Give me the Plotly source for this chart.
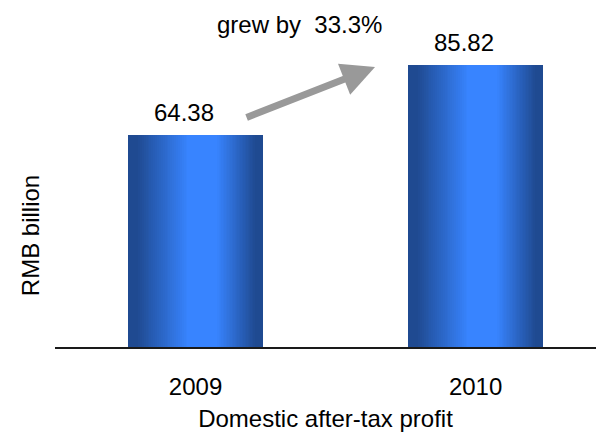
import plotly.graph_objects as go

# Domestic after-tax profit, RMB billion
years = ["2009", "2010"]
profit = [64.38, 85.82]

growth_pct = (profit[1] / profit[0] - 1) * 100

FONT = "Liberation Sans, Arial, sans-serif"
BAR_W = 0.482

DARK = (31, 74, 145)
BRIGHT = (56, 132, 255)


def mix(t):
    r, g, b = (round(d + (l - d) * t) for d, l in zip(DARK, BRIGHT))
    return f"rgb({r},{g},{b})"


fig = go.Figure()

# Cylinder-like shading: stacked bars, each narrower and brighter than the last
n_layers = 28
for i in range(n_layers):
    t = i / (n_layers - 1)
    left = 0.0 if i == 0 else 0.06 + 0.38 * t
    right = 1.0 if i == 0 else 0.95 - 0.29 * t
    fig.add_trace(go.Bar(
        x=years,
        y=profit,
        width=(right - left) * BAR_W,
        offset=(left - 0.5) * BAR_W,
        marker=dict(color=mix(t), line=dict(width=0)),
        hoverinfo="skip" if i else "x+y",
        showlegend=False,
    ))

# Value labels above each bar
for idx, v in enumerate(profit):
    fig.add_annotation(
        x=idx, y=v, xref="x", yref="y", text=f"{v:.2f}", showarrow=False,
        xanchor="center", yanchor="bottom", xshift=-12, yshift=7,
        font=dict(family=FONT, size=24, color="black"),
    )

# Growth arrow and caption
fig.add_annotation(
    x=0.641, y=85.1, ax=0.177, ay=69.6,
    xref="x", yref="y", axref="x", ayref="y",
    showarrow=True, arrowhead=2, arrowsize=0.95, arrowwidth=7,
    arrowcolor="#999999", text="",
)
fig.add_annotation(
    x=0.373, y=98.0, xref="x", yref="y",
    text=f"grew by\u00a0 {growth_pct:.1f}%", showarrow=False,
    xanchor="center", yanchor="middle",
    font=dict(family=FONT, size=24, color="black"),
)

# Vertical axis caption
fig.add_annotation(
    x=-0.044, y=0.32, xref="paper", yref="paper",
    text="RMB billion", textangle=-90, showarrow=False,
    xanchor="center", yanchor="middle",
    font=dict(family=FONT, size=24, color="black"),
)

fig.update_layout(
    width=596, height=436,
    margin=dict(l=55, r=0, t=0, b=89),
    barmode="overlay",
    bargap=0,
    plot_bgcolor="white",
    paper_bgcolor="white",
    font=dict(family=FONT, size=24, color="black"),
    xaxis=dict(
        type="category",
        range=[-0.5018, 1.430],
        showline=True, linecolor="#1a1a1a", linewidth=2,
        ticks="", showgrid=False, zeroline=False,
        ticklabelstandoff=17,
        tickfont=dict(family=FONT, size=24, color="black"),
        title=dict(text="Domestic after-tax profit", standoff=11,
                   font=dict(family=FONT, size=24, color="black")),
    ),
    yaxis=dict(
        range=[0, 105.5],
        visible=False,
    ),
)

fig.write_html("out.html")
